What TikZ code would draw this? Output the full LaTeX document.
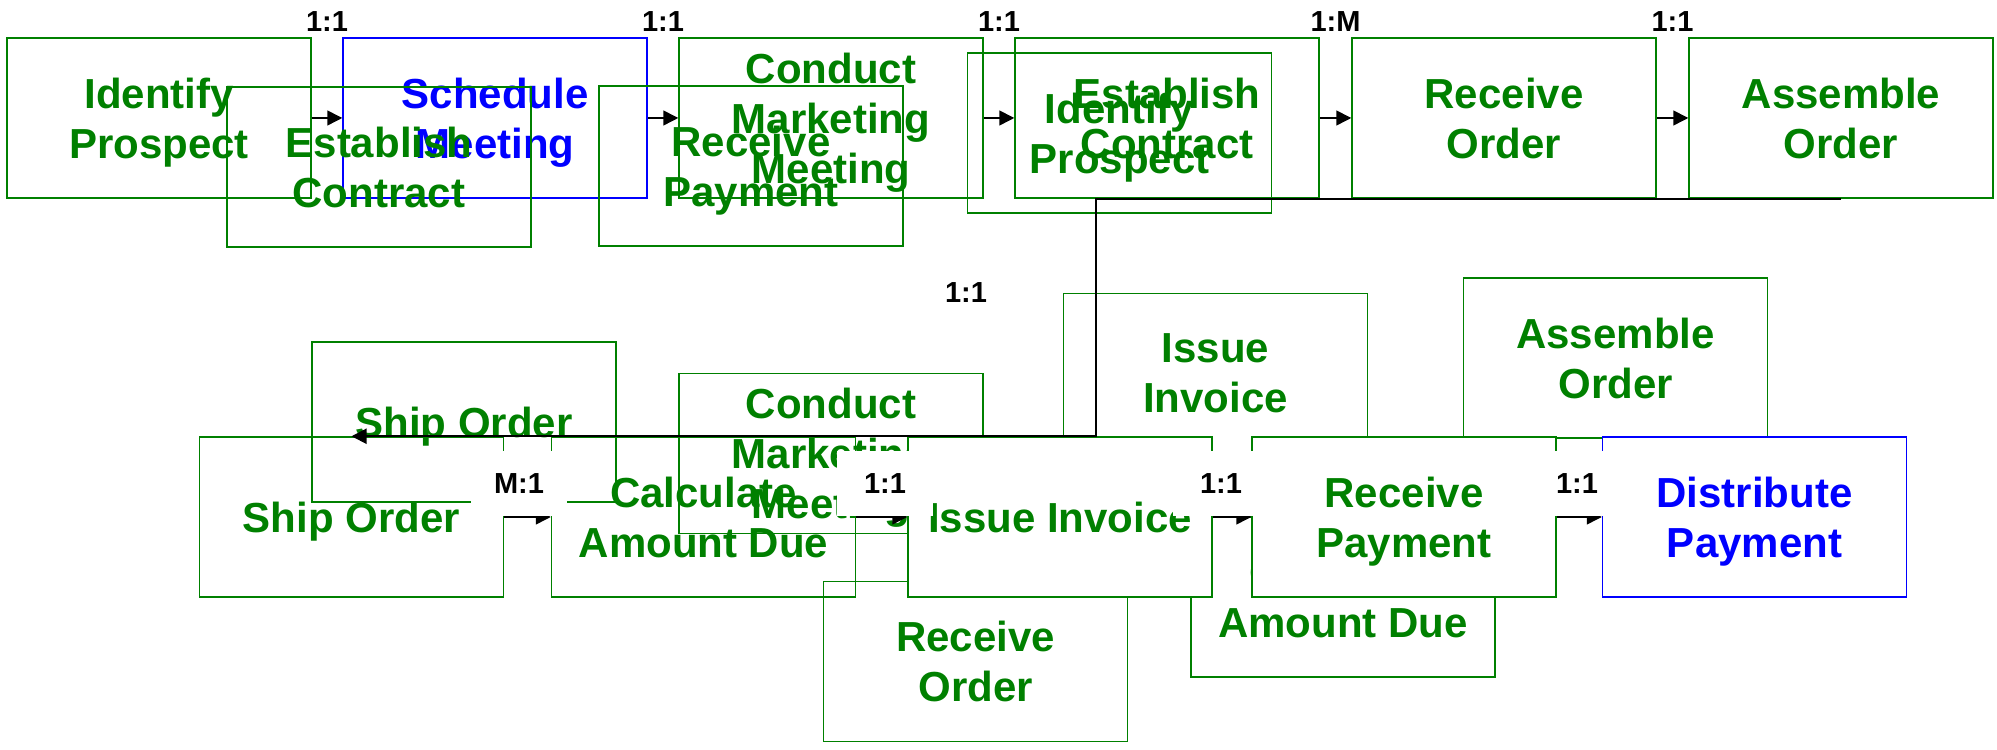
\documentclass[tikz,border=0pt]{standalone}
\usepackage{fontspec}
\setmainfont{Liberation Sans}
\usetikzlibrary{arrows.meta}
\definecolor{pgreen}{RGB}{0,128,0}
\definecolor{pblue}{RGB}{0,0,255}
\begin{document}
\begin{tikzpicture}[x=0.4pt,y=-0.4pt,
  box/.style={draw=pgreen, line width=0.6pt, minimum width=121.6pt, minimum height=64pt,
    inner sep=0pt, align=center, text depth=0pt, text=pgreen, font=\fontsize{16.8}{20}\selectfont\bfseries},
  bbox/.style={box, draw=pblue, text=pblue},
  wbox/.style={box, fill=white},
  wbbox/.style={bbox, fill=white},
  rel/.style={font=\fontsize{11.6}{13}\selectfont\bfseries, text=black, inner sep=0pt},
  relw/.style={rel, fill=white, minimum width=38.4pt, minimum height=26pt, anchor=south},
  arr/.style={draw=black, line width=0.6pt, -{Triangle[length=6pt,width=6pt]}},
  conn/.style={draw=black, line width=0.8pt, -{Triangle[length=6pt,width=6pt]}},
]
\useasboundingbox (0,0) rectangle (1997,750);
% top row
\node[box]  (A) at (159,118)  {Identify\\Prospect};
\node[bbox] (B) at (495,118)  {Schedule\\Meeting};
\node[box]  (C) at (831,118)  {Conduct\\Marketing\\Meeting};
\node[box]  (D) at (1167,118) {Establish\\Contract};
\node[box]  (E) at (1504,118) {Receive\\Order};
\node[box]  (F) at (1841,118) {Assemble\\Order};
% top overlays
\node[box] (oEC) at (379,167)    {Establish\\Contract};
\node[box] (oRP) at (751,166)    {Receive\\Payment};
\node[box] (oIP) at (1119.5,133) {Identify\\Prospect};
% lower overlays
\node[box] (oSO) at (464,422)     {Ship Order};
\node[box] (oCM) at (831,453.5)   {Conduct\\Marketing\\Meeting};
\node[box] (oII) at (1215.5,373.5){Issue\\Invoice};
\node[box] (oAO) at (1615.5,358)  {Assemble\\Order};
\node[box] (oCA) at (1343,597)    {Calculate\\Amount Due};
\node[box] (oRO) at (975.5,661.5) {Receive\\Order};
% lower row
\node[box]   (SL) at (351.5,517) {Ship Order};
\node[box]   (CL) at (703.5,517) {Calculate\\Amount Due};
\node[wbox]  (IL) at (1060,517)  {Issue Invoice};
\node[wbox]  (RL) at (1404,517)  {Receive\\Payment};
\node[wbbox] (DL) at (1754.5,517){Distribute\\Payment};
% connectors
\draw[arr] (A) -- (B);
\draw[arr] (B) -- (C);
\draw[arr] (C) -- (D);
\draw[arr] (D) -- (E);
\draw[arr] (E) -- (F);
\coordinate (bend) at (1096,300);
\draw[conn] (F.south) -- (F.south -| bend) -- (bend |- SL.north) -- (SL.north);
\draw[arr] (SL) -- (CL);
\draw[arr] (CL) -- (IL);
\draw[arr] (IL) -- (RL);
\draw[arr] (RL) -- (DL);
% labels
\node[rel] (l1) at (327,22)    {1:1};
\node[rel] (l2) at (663,22)    {1:1};
\node[rel] (l3) at (999,22)    {1:1};
\node[rel] (l4) at (1335.5,22) {1:M};
\node[rel] (l5) at (1672.5,22) {1:1};
\node[rel] (l6) at (966,293)   {1:1};
\node[relw] (l7) at (519,517)  {M:1};
\node[relw] (l8) at (885,517)  {1:1};
\node[relw] (l9) at (1221,517) {1:1};
\node[relw] (l10) at (1577,517){1:1};
\end{tikzpicture}
\end{document}
